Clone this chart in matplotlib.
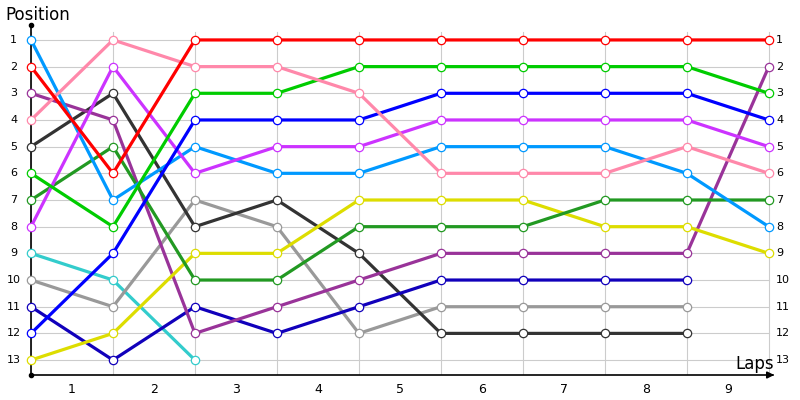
import matplotlib
matplotlib.use("Agg")
import matplotlib.pyplot as plt

# positions after each lap boundary (0..9)
red = [2, 6, 1, 1, 1, 1, 1, 1, 1, 1]
pink = [4, 1, 2, 2, 3, 6, 6, 6, 5, 6]
green = [6, 8, 3, 3, 2, 2, 2, 2, 2, 3]
blue = [12, 9, 4, 4, 4, 3, 3, 3, 3, 4]
violet = [8, 2, 6, 5, 5, 4, 4, 4, 4, 5]
sky = [1, 7, 5, 6, 6, 5, 5, 5, 6, 8]
darkgreen = [7, 5, 10, 10, 8, 8, 8, 7, 7, 7]
yellow = [13, 12, 9, 9, 7, 7, 7, 8, 8, 9]
plum = [3, 4, 12, 11, 10, 9, 9, 9, 9, 2]
navy = [11, 13, 11, 12, 11, 10, 10, 10, 10]
gray = [10, 11, 7, 8, 12, 11, 11, 11, 11]
black = [5, 3, 8, 7, 9, 12, 12, 12, 12]
cyan = [9, 10, 13]

series = [
    (cyan, "#33cccc"),
    (gray, "#999999"),
    (black, "#333333"),
    (navy, "#1100bb"),
    (plum, "#993399"),
    (yellow, "#dddd00"),
    (darkgreen, "#229922"),
    (sky, "#0099ff"),
    (violet, "#cc33ff"),
    (blue, "#0000ff"),
    (green, "#00cc00"),
    (pink, "#ff88aa"),
    (red, "#ff0000"),
]

laps = [1, 2, 3, 4, 5, 6, 7, 8, 9]
positions = list(range(1, 14))

fig = plt.figure(figsize=(8, 4), dpi=100)
ax = fig.add_axes([31 / 800, 25 / 400, (777 - 31) / 800, 350 / 400])
ax.set_xlim(0, 9.1)
ax.set_ylim(13.56, 0.44)
ax.axis("off")

# grid
for p in positions:
    ax.plot([0, 9], [p, p], color="#cccccc", lw=0.8, zorder=1)
for i in range(10):
    ax.plot([i, i], [0.7, 13.56], color="#cccccc", lw=0.8, zorder=1)

for vals, col in series:
    ax.plot(range(len(vals)), vals, color=col, lw=2.3, marker="o", ms=6,
            mfc="white", mec=col, mew=0.9, zorder=3, clip_on=False)

# axes lines
ax.plot([0, 0], [0.44, 13.56], color="black", lw=1.2, zorder=2, clip_on=False)
ax.plot([0, 9.05], [13.56, 13.56], color="black", lw=1.2, zorder=2, clip_on=False)
ax.plot([0], [0.44], marker="o", ms=3, color="black", clip_on=False)
ax.plot([0], [13.56], marker="o", ms=3, color="black", clip_on=False)
ax.annotate("", xy=(9.1, 13.56), xytext=(8.95, 13.56),
            arrowprops=dict(arrowstyle="-|>", color="black", lw=1.2,
                            mutation_scale=10), annotation_clip=False)

for p in positions:
    ax.text(-0.21, p, str(p), ha="center", va="center", fontsize=8,
            clip_on=False)
    ax.text(9.09, p, str(p), ha="left", va="center", fontsize=8,
            clip_on=False)
for i, lap in enumerate(laps):
    ax.text(i + 0.5, 14.09, str(lap), ha="center", va="center", fontsize=9,
            clip_on=False)

fig.text(5 / 800, 1 - 15 / 400, "Position", ha="left", va="center", fontsize=12)
fig.text(774 / 800, 1 - 364 / 400, "Laps", ha="right", va="center", fontsize=12)

fig.savefig("out.png", dpi=100)
